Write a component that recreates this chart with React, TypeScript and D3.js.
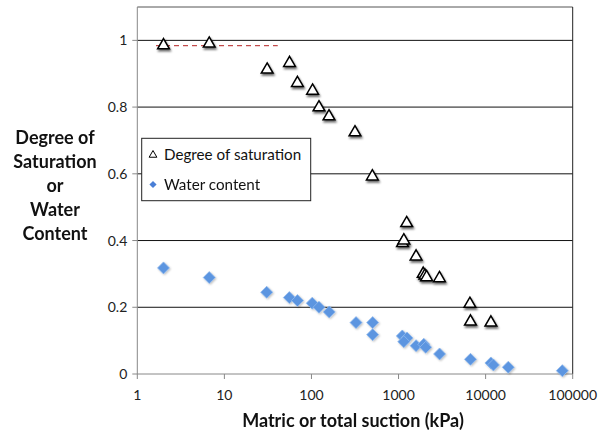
import React from "react";
import * as d3 from "d3";

// Suction (kPa) and degree of saturation
const satSuction = [2, 6.7, 31, 56, 69, 103, 122, 159, 316, 500, 1240, 1110, 1150, 1590, 1920, 2010, 2100, 2950, 6600, 6700, 11500];
const satValues = [0.985, 0.99, 0.912, 0.932, 0.872, 0.849, 0.799, 0.772, 0.724, 0.592, 0.452, 0.392, 0.4, 0.352, 0.3, 0.295, 0.29, 0.287, 0.21, 0.157, 0.154];

// Suction (kPa) and gravimetric water content
const wcSuction = [2, 6.7, 30.6, 55.7, 69, 102, 122, 160, 325, 505, 505, 1105, 1250, 1150, 1590, 1950, 2050, 2960, 6700, 11500, 12300, 18200, 76000];
const wcValues = [0.318, 0.289, 0.245, 0.229, 0.22, 0.212, 0.2, 0.186, 0.154, 0.154, 0.118, 0.114, 0.108, 0.097, 0.085, 0.089, 0.08, 0.06, 0.044, 0.033, 0.027, 0.02, 0.01];

// Full saturation reference line
const refLineX = [1.64, 41];
const refLineY = 0.984;

const xTicks = [1, 10, 100, 1000, 10000, 100000];
const yTicks = [0, 0.2, 0.4, 0.6, 0.8, 1];

const W = 605;
const H = 432;
const plot = { left: 137.3, right: 572.7, top: 7, bottom: 374 };

const FONT = "Lato, 'Open Sans', sans-serif";

export default function App() {
  const x = d3.scaleLog().domain([1, 100000]).range([plot.left, plot.right]);
  const y = d3.scaleLinear().domain([0, 1.1]).range([plot.bottom, plot.top]);

  const tri = d3.symbol().type(d3.symbolTriangle).size(60)() as string;
  const diamond = (s: number) => `M0,${-s}L${s},0L0,${s}L${-s},0Z`;

  return (
    <svg
      width={W}
      height={H}
      style={{ position: "absolute", left: 0, top: 0, background: "#fff" }}
    >
      <defs>
        <filter id="shadow" x="-50%" y="-50%" width="200%" height="200%">
          <feGaussianBlur in="SourceAlpha" stdDeviation="1.1" />
          <feOffset dx="0.6" dy="1.7" result="off" />
          <feComponentTransfer>
            <feFuncA type="linear" slope="0.6" />
          </feComponentTransfer>
          <feMerge>
            <feMergeNode />
            <feMergeNode in="SourceGraphic" />
          </feMerge>
        </filter>
        <filter id="glow" x="-50%" y="-50%" width="200%" height="200%">
          <feGaussianBlur in="SourceAlpha" stdDeviation="1.2" />
          <feOffset dx="0.5" dy="1" result="off" />
          <feComponentTransfer>
            <feFuncA type="linear" slope="0.25" />
          </feComponentTransfer>
          <feMerge>
            <feMergeNode />
            <feMergeNode in="SourceGraphic" />
          </feMerge>
        </filter>
      </defs>

      {/* gridlines */}
      {yTicks.filter((t) => t > 0).map((t) => (
        <line key={t} x1={plot.left} x2={plot.right} y1={y(t)} y2={y(t)} stroke="#111" strokeWidth={1} />
      ))}

      {/* plot frame */}
      <line x1={plot.left} x2={plot.right} y1={plot.top} y2={plot.top} stroke="#555" strokeWidth={1} />
      <line x1={plot.right} x2={plot.right} y1={plot.top} y2={plot.bottom} stroke="#222" strokeWidth={1} />
      <line x1={plot.left} x2={plot.left} y1={plot.top} y2={plot.bottom} stroke="#888" strokeWidth={1} />
      <line x1={plot.left} x2={plot.right} y1={plot.bottom} y2={plot.bottom} stroke="#888" strokeWidth={1} />

      {/* x ticks */}
      {xTicks.map((t) => (
        <g key={t}>
          <line x1={x(t)} x2={x(t)} y1={plot.bottom} y2={plot.bottom + 5} stroke="#888" />
          <text x={x(t)} y={plot.bottom + 26} textAnchor="middle" fontFamily={FONT} fontSize={14} fill="#222">
            {t}
          </text>
        </g>
      ))}

      {/* y ticks */}
      {yTicks.map((t) => (
        <g key={t}>
          <line x1={plot.left - 5} x2={plot.left} y1={y(t)} y2={y(t)} stroke="#888" />
          <text x={plot.left - 10} y={y(t) + 5} textAnchor="end" fontFamily={FONT} fontSize={14} fill="#222">
            {d3.format("~g")(t)}
          </text>
        </g>
      ))}

      {/* reference line */}
      <line
        x1={x(refLineX[0])}
        x2={x(refLineX[1])}
        y1={y(refLineY)}
        y2={y(refLineY)}
        stroke="#b42020"
        strokeWidth={1}
        strokeDasharray="5,4"
      />

      {/* water content */}
      <g filter="url(#glow)">
        {wcSuction.map((s, i) => (
          <path
            key={i}
            d={diamond(6)}
            transform={`translate(${x(s)},${y(wcValues[i])})`}
            fill="#5b95e0"
            stroke="#8fb9ee"
            strokeWidth={0.8}
          />
        ))}
      </g>

      {/* degree of saturation */}
      <g filter="url(#shadow)">
        {satSuction.map((s, i) => (
          <path
            key={i}
            d={tri}
            transform={`translate(${x(s)},${y(satValues[i])})`}
            fill="#fff"
            stroke="#000"
            strokeWidth={1.5}
          />
        ))}
      </g>

      {/* legend */}
      <rect x={141.7} y={138.3} width={169} height={62.4} fill="#fff" stroke="#222" strokeWidth={1} />
      <path d={d3.symbol().type(d3.symbolTriangle).size(26)() as string} transform="translate(153,155)" fill="#fff" stroke="#000" strokeWidth={1} />
      <text x={164} y={159.5} fontFamily={FONT} fontSize={15.2} fill="#111">
        Degree of saturation
      </text>
      <path d={diamond(3.6)} transform="translate(153,184.5)" fill="#4a7fd6" />
      <text x={164} y={189.5} fontFamily={FONT} fontSize={15.2} fill="#111">
        Water content
      </text>

      {/* y-axis title */}
      <text fontFamily={FONT} fontSize={18} fontWeight="bold" textAnchor="middle" fill="#111">
        {["Degree of", "Saturation", "or", "Water", "Content"].map((line, i) => (
          <tspan key={i} x={55} y={143.5 + i * 24.2}>
            {line}
          </tspan>
        ))}
      </text>

      {/* x-axis title */}
      <text x={353} y={427} textAnchor="middle" fontFamily={FONT} fontSize={18} fontWeight="bold" fill="#111">
        Matric or total suction (kPa)
      </text>
    </svg>
  );
}
